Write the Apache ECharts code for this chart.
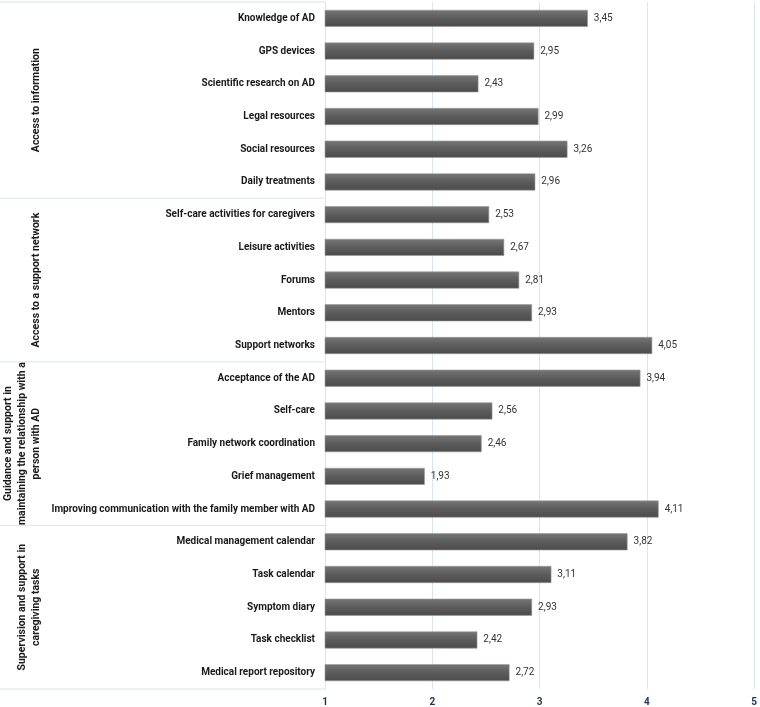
<!DOCTYPE html>
<html>
<head>
<meta charset="utf-8">
<script src="https://cdn.jsdelivr.net/npm/echarts@6/dist/echarts.min.js"></script>
<style>
  html, body { margin: 0; padding: 0; background: #fff; }
  #chart-container { width: 760px; height: 707px; }
</style>
</head>
<body>
<div id="chart-container"></div>
<script>
const groups = [
  "Access to information",
  "Access to a support network",
  "Guidance and support in\nmaintaining the relationship with a\nperson with AD",
  "Supervision and support in\ncaregiving tasks",
];
const groupSizes = [6, 5, 5, 5];

const categories = [
  "Knowledge of AD",
  "GPS devices",
  "Scientific research on AD",
  "Legal resources",
  "Social resources",
  "Daily treatments",
  "Self-care activities for caregivers",
  "Leisure activities",
  "Forums",
  "Mentors",
  "Support networks",
  "Acceptance of the AD",
  "Self-care",
  "Family network coordination",
  "Grief management",
  "Improving communication with the family member with AD",
  "Medical management calendar",
  "Task calendar",
  "Symptom diary",
  "Task checklist",
  "Medical report repository",
];
const values = [
  3.45, 2.95, 2.43, 2.99, 3.26, 2.96,
  2.53, 2.67, 2.81, 2.93, 4.05,
  3.94, 2.56, 2.46, 1.93, 4.11,
  3.82, 3.11, 2.93, 2.42, 2.72,
];
const xTicks = [1, 2, 3, 4, 5];

const chartContainer = document.getElementById("chart-container");
const myChart = echarts.init(chartContainer);

const gridLeft = 325;
const labelFont = "Roboto";

const option = {
  animation: false,
  grid: { left: gridLeft, right: 4, top: 2, bottom: 18, containLabel: false },
  xAxis: {
    type: "value",
    min: xTicks[0],
    max: xTicks[xTicks.length - 1],
    interval: 1,
    axisLine: { show: false },
    axisTick: { show: false },
    axisLabel: {
      margin: 8,
      color: "#1f3550",
      fontFamily: labelFont,
      fontWeight: "bold",
      fontSize: 10,
    },
    splitLine: { show: true, lineStyle: { color: "#d5e5f2", width: 1 } },
  },
  yAxis: {
    type: "category",
    inverse: true,
    data: categories,
    axisLine: { show: true, lineStyle: { color: "#d5e5f2", width: 1 } },
    axisTick: { show: false },
    axisLabel: {
      margin: 10,
      color: "#1a1a1a",
      fontFamily: labelFont,
      fontWeight: "bold",
      fontSize: 10,
    },
  },
  series: [
    {
      type: "bar",
      data: values,
      barWidth: 17,
      itemStyle: {
        color: new echarts.graphic.LinearGradient(0, 0, 0, 1, [
          { offset: 0, color: "#767676" },
          { offset: 0.5, color: "#5c5c5c" },
          { offset: 1, color: "#4b4b4b" },
        ]),
        borderColor: "#9a9a9a",
        borderWidth: 0.6,
      },
      label: {
        show: true,
        position: "right",
        distance: 6,
        color: "#333333",
        fontFamily: labelFont,
        fontSize: 10,
        formatter: (p) => p.value.toFixed(2).replace(".", ","),
      },
    },
  ],
};

myChart.setOption(option);

// group labels and separator lines on the left, placed from the category axis
const y0 = myChart.convertToPixel({ yAxisIndex: 0 }, 0);
const y1 = myChart.convertToPixel({ yAxisIndex: 0 }, 1);
const step = y1 - y0;
const graphic = [];
let start = 0;
const boundaryY = (i) => y0 + (i - 0.5) * step;
graphic.push({
  type: "line",
  shape: { x1: 0, y1: boundaryY(0), x2: gridLeft, y2: boundaryY(0) },
  style: { stroke: "#d5e5f2", lineWidth: 1 },
  silent: true,
});
groupSizes.forEach((size, g) => {
  const end = start + size;
  const top = boundaryY(start);
  const bottom = boundaryY(end);
  graphic.push({
    type: "line",
    shape: { x1: 0, y1: bottom, x2: gridLeft, y2: bottom },
    style: { stroke: "#d5e5f2", lineWidth: 1 },
    silent: true,
  });
  graphic.push({
    type: "text",
    x: 43,
    y: (top + bottom) / 2,
    rotation: Math.PI / 2,
    style: {
      text: groups[g],
      fill: "#1a1a1a",
      font: "bold 10.5px Roboto",
      align: "center",
      verticalAlign: "bottom",
      lineHeight: 14,
    },
    silent: true,
  });
  start = end;
});

myChart.setOption({ graphic: graphic });
</script>
</body>
</html>
